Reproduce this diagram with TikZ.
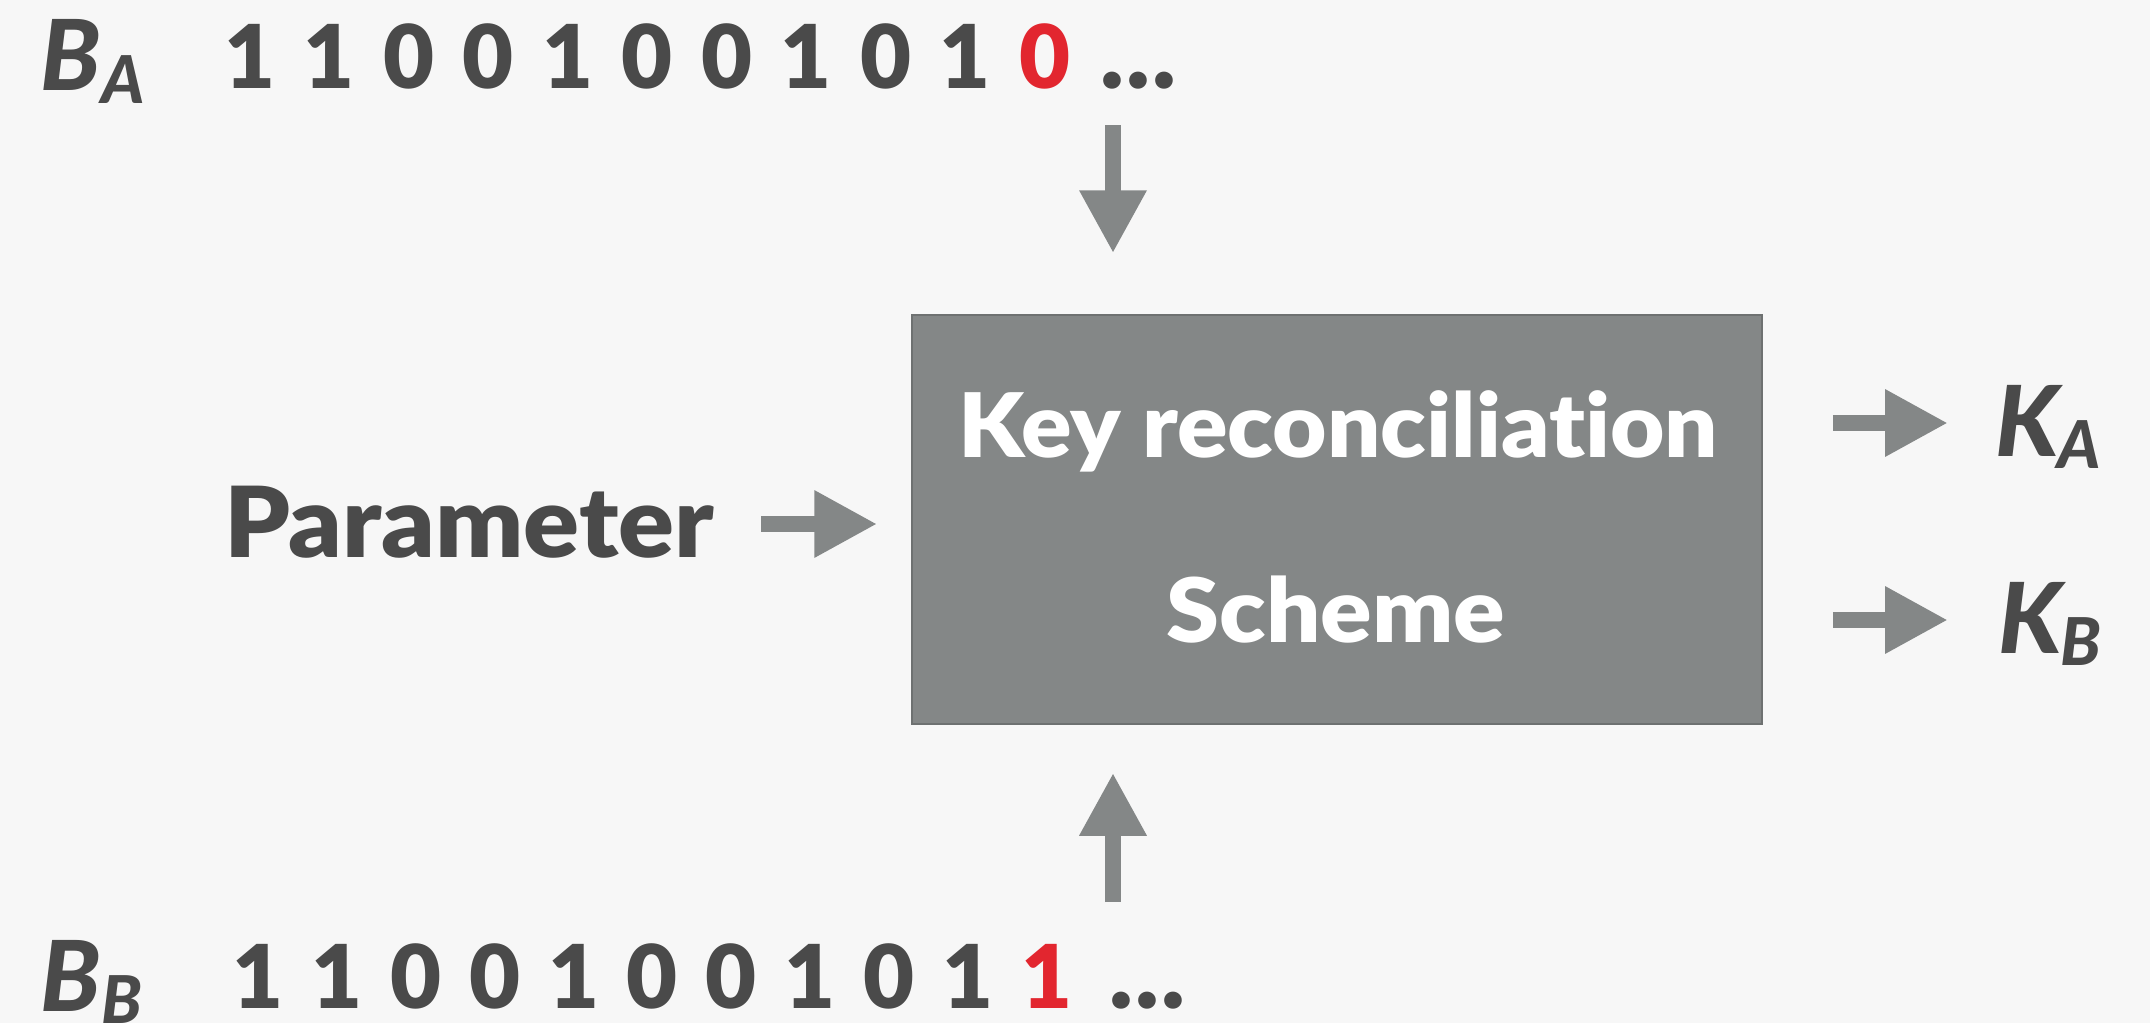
\documentclass[tikz,border=0pt]{standalone}
\usepackage{fontspec}
\setmainfont{Lato}[Ligatures=NoCommon, BoldFont={Lato Black}, BoldItalicFont={Lato Black Italic}]
\usetikzlibrary{arrows.meta}
\definecolor{bg}{HTML}{F7F7F7}
\definecolor{ink}{HTML}{4A4A4A}
\definecolor{slate}{HTML}{848787}
\definecolor{slateedge}{HTML}{6E7171}
\definecolor{bitred}{HTML}{E2262F}
\newcommand\fsz[1]{\fontsize{#1}{#1}\selectfont}

\begin{document}
\begin{tikzpicture}[x=1pt,y=-1pt,
  bit/.style={anchor=base, inner sep=0pt, text=ink, font=\fsz{88}\bfseries},
  flipbit/.style={bit, text=bitred},
  dots/.style={anchor=base west, inner sep=0pt, text=ink, font=\fsz{100}\bfseries},
  keylabel/.style={anchor=base west, inner sep=0pt, text=ink, font=\fsz{98}\bfseries\itshape},
  recbox/.style={draw=slateedge, line width=1.5pt, fill=slate, minimum width=850pt, minimum height=409pt, inner sep=0pt},
  boxtext/.style={anchor=base, inner sep=0pt, text=white, font=\fsz{89}\bfseries},
  paramtext/.style={anchor=base west, inner sep=0pt, text=ink, font=\fsz{98}\bfseries},
  blockarrow/.style={draw=slate, line width=16pt, -{Triangle[width=63pt,length=63pt]}}
]
% canvas
\fill[bg] (0,0) rectangle (2150,1023);
\useasboundingbox (0,0) rectangle (2150,1023);

% reconciliation block
\node[recbox] (box) at (1337,519.5) {};
\node[boxtext] (title1) at (1338,457) {\scalebox{1.055}[1]{Key reconciliation}};
\node[boxtext] (title2) at (1336,642) {\scalebox{1.075}[1]{Scheme}};

% parameter input
\node[paramtext] (param) at (224,557) {\scalebox{1.06}[1]{Parameter}};

% Alice's bit string
\node[keylabel] (ba) at (40,90) {B\kern1pt\raisebox{-13pt}{\fsz{66}A}};
\foreach \b [count=\i from 0] in {1,1,0,0,1,0,0,1,0,1}
  \node[bit] (a\i) at (250+79.5*\i,88) {\b};
\node[flipbit] (a10) at (1045,88) {0};
\node[dots] (adots) at (1100,88) {.\kern2pt.\kern2pt.};

% Bob's bit string
\node[keylabel] (bb) at (40,1011) {B\kern1pt\raisebox{-12pt}{\fsz{66}B}};
\foreach \b [count=\i from 0] in {1,1,0,0,1,0,0,1,0,1}
  \node[bit] (b\i) at (258+78.9*\i,1008) {\b};
\node[flipbit] (b10) at (1047,1008) {1};
\node[dots] (bdots) at (1109,1008) {.\kern2pt.\kern2pt.};

% outputs
\node[keylabel] (ka) at (1995,456) {K\kern-2pt\raisebox{-12pt}{\fsz{66}A}};
\node[keylabel] (kb) at (1998,653) {K\kern-2pt\raisebox{-12pt}{\fsz{66}B}};

% connectors
\coordinate (atail) at (1113,125);
\coordinate (btail) at (1113,902);
\coordinate (ptail) at (761,524);
\coordinate (katip) at (1948,423);
\coordinate (kbtip) at (1948,620);
\draw[blockarrow, shorten >=61pt] (atail) -- (atail |- box.north);
\draw[blockarrow, shorten >=48pt] (btail) -- (btail |- box.south);
\draw[blockarrow, shorten >=34pt] (ptail) -- (ptail -| box.west);
\draw[blockarrow, shorten <=70pt] (katip -| box.east) -- (katip);
\draw[blockarrow, shorten <=70pt] (kbtip -| box.east) -- (kbtip);
\end{tikzpicture}
\end{document}
